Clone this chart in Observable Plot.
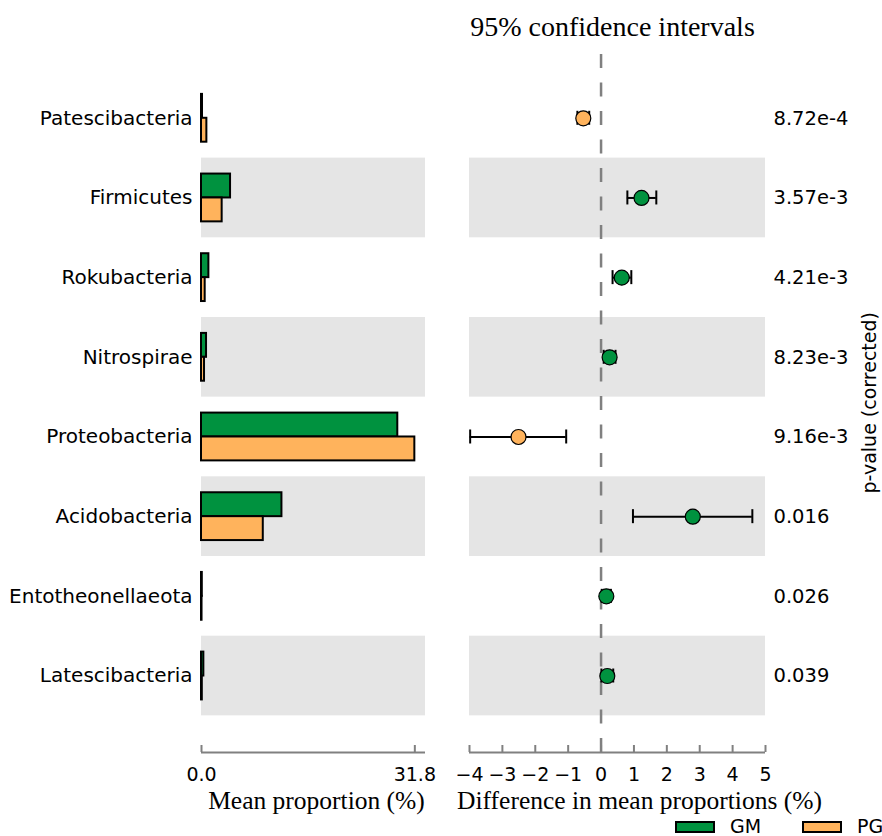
<!DOCTYPE html>
<html><head><meta charset="utf-8">
<script src="https://cdn.jsdelivr.net/npm/d3@7"></script>
<script src="https://cdn.jsdelivr.net/npm/@observablehq/plot@0.6"></script>
<style>
body{margin:0;background:#fff;}
#chart{position:relative;width:882px;height:836px;overflow:hidden;font-family:"DejaVu Sans",sans-serif;}
#chart svg{position:absolute;top:0;}
.sw{position:absolute;box-sizing:border-box;border:2px solid #000;}
.lt{position:absolute;font-size:19px;line-height:17px;height:17px;color:#000;white-space:nowrap;}
</style></head><body><div id="chart"></div>
<script>
const taxa = ["Patescibacteria","Firmicutes","Rokubacteria","Nitrospirae","Proteobacteria","Acidobacteria","Entotheonellaeota","Latescibacteria"];
const meanGM = [0.15, 4.33, 1.1, 0.75, 29.26, 11.99, 0.12, 0.35];
const meanPG = [0.8, 3.08, 0.55, 0.45, 31.8, 9.21, 0.08, 0.12];
const diffMean = [-0.54, 1.23, 0.63, 0.26, -2.51, 2.79, 0.16, 0.19];
const diffLow = [-0.72, 0.80, 0.35, 0.08, -3.98, 0.97, 0.02, 0.01];
const diffHigh = [-0.36, 1.68, 0.92, 0.44, -1.06, 4.60, 0.30, 0.37];
const pValues = ["8.72e-4","3.57e-3","4.21e-3","8.23e-3","9.16e-3","0.016","0.026","0.039"];
const groups = ["GM","PG"];
const groupColors = ["#00923f","#ffb35c"];
const meanTicks = [0, 31.8];
const diffTicks = [-4,-3,-2,-1,0,1,2,3,4,5];
const meanLabel = "Mean proportion (%)";
const diffLabel = "Difference in mean proportions (%)";
const ciTitle = "95% confidence intervals";
const pLabel = "p-value (corrected)";

const rows = taxa.map((name, i) => ({name, i, gm: meanGM[i], pg: meanPG[i], diff: diffMean[i], lo: diffLow[i], hi: diffHigh[i], p: pValues[i]}));
const bandRows = rows.filter(d => d.i % 2 === 1);
const caps = rows.flatMap(d => [{x: d.lo, i: d.i}, {x: d.hi, i: d.i}]);

const sans = "DejaVu Sans", serif = "Liberation Serif";
const axisGray = "#808080", bandFill = "#e5e5e5";
const yDomain = [-0.97, 7.96];
const yMax = yDomain[1];
const meanDomain = [0, meanTicks[1] * 1.05];
const diffDomain = [diffTicks[0], diffTicks[diffTicks.length - 1]];
const common = {height: 836, marginTop: 40.5, marginBottom: 84,
  style: {fontFamily: sans, fontSize: "19px", color: "black", background: "transparent", overflow: "visible"},
  y: {domain: yDomain, reverse: true, axis: null}};

const left = Plot.plot({
  ...common, width: 440, marginLeft: 201, marginRight: 15,
  x: {domain: meanDomain},
  marks: [
    Plot.rect(bandRows, {x1: meanDomain[0], x2: meanDomain[1], y1: d => d.i - 0.5, y2: d => d.i + 0.5, fill: bandFill}),
    Plot.rect(rows, {x1: 0, x2: "gm", y1: d => d.i - 0.3, y2: d => d.i, fill: groupColors[0], stroke: "black", strokeWidth: 2}),
    Plot.rect(rows, {x1: 0, x2: "pg", y1: d => d.i, y2: d => d.i + 0.3, fill: groupColors[1], stroke: "black", strokeWidth: 2}),
    Plot.text(rows, {y: "i", text: "name", frameAnchor: "left", textAnchor: "end", dx: -9, fontSize: 20, fill: "black"}),
    Plot.ruleY([yMax], {stroke: axisGray, strokeWidth: 2}),
    Plot.ruleX(meanTicks, {x: d => d, y1: yMax, y2: yMax, insetTop: -7, stroke: axisGray, strokeWidth: 2}),
    Plot.axisX({ticks: meanTicks, tickFormat: d3.format(".1f"), tickSize: 0, tickPadding: 15, label: null, fill: "black"}),
    Plot.text([meanLabel], {text: d => d, frameAnchor: "bottom", dy: 56.5, dx: 3, lineAnchor: "bottom", fontFamily: serif, fontSize: 25.5, fill: "black"})
  ]
});
left.style.left = "0px";

const right = Plot.plot({
  ...common, width: 442, marginLeft: 29, marginRight: 117,
  x: {domain: diffDomain},
  marks: [
    Plot.rect(bandRows, {x1: diffDomain[0], x2: diffDomain[1], y1: d => d.i - 0.5, y2: d => d.i + 0.5, fill: bandFill}),
    Plot.ruleX([0], {stroke: axisGray, strokeWidth: 2.5, strokeDasharray: "14,14.5", strokeDashoffset: 15}),
    Plot.ruleY(rows, {y: "i", x1: "lo", x2: "hi", stroke: "black", strokeWidth: 2}),
    Plot.ruleX(caps, {x: "x", y1: "i", y2: "i", insetTop: -7, insetBottom: -7, stroke: "black", strokeWidth: 2}),
    Plot.dot(rows, {x: "diff", y: "i", r: 7.5, fill: d => d.diff > 0 ? groupColors[0] : groupColors[1], stroke: "black", strokeWidth: 1.2}),
    Plot.text(rows, {y: "i", text: "p", frameAnchor: "right", textAnchor: "start", dx: 8, fontSize: 19.5, fill: "black"}),
    Plot.text([pLabel], {text: d => d, frameAnchor: "right", textAnchor: "middle", rotate: -90, dx: 104, dy: 6, fill: "black"}),
    Plot.ruleY([yMax], {stroke: axisGray, strokeWidth: 2}),
    Plot.ruleX(diffTicks, {x: d => d, y1: yMax, y2: yMax, insetTop: -7, stroke: axisGray, strokeWidth: 2}),
    Plot.axisX({ticks: diffTicks, tickFormat: d3.format("d"), tickSize: 0, tickPadding: 15, label: null, fill: "black"}),
    Plot.text([diffLabel], {text: d => d, frameAnchor: "bottom", dy: 56.5, dx: 22, lineAnchor: "bottom", fontFamily: serif, fontSize: 25.5, fill: "black"}),
    Plot.text([ciTitle], {text: d => d, frameAnchor: "top", dy: -5.5, dx: -5, lineAnchor: "bottom", fontFamily: serif, fontSize: 28, fill: "black"})
  ]
});
right.style.left = "440px";

const chart = document.getElementById("chart");
chart.appendChild(left);
chart.appendChild(right);

const swLeft = [675, 802];
groups.forEach((g, k) => {
  const sw = document.createElement("div");
  sw.className = "sw";
  sw.style.cssText = `left:${swLeft[k]}px;top:821px;width:40px;height:12px;background:${groupColors[k]};`;
  chart.appendChild(sw);
  const t = document.createElement("div");
  t.className = "lt";
  t.style.left = (swLeft[k] + 55) + "px";
  t.style.top = "818px";
  t.textContent = g;
  chart.appendChild(t);
});
</script></body></html>
